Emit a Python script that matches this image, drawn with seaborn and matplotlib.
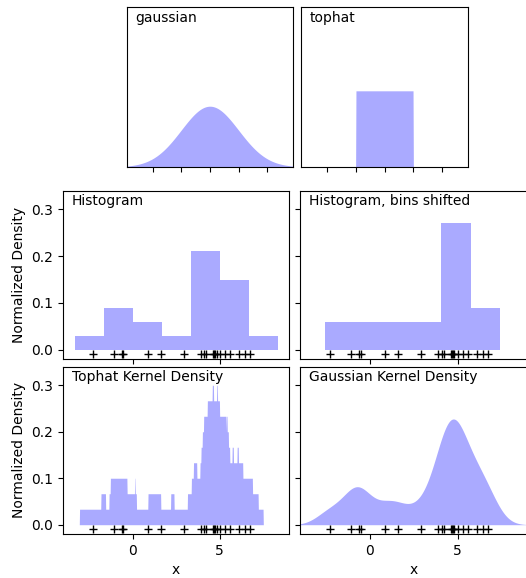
import numpy as np
import pandas as pd
import matplotlib
matplotlib.use("Agg")
import matplotlib.pyplot as plt
import seaborn as sns

# Sample points (read from the "+" marks)
x_points = [1.624, -0.612, -0.528, -1.073, 0.865, -2.302,
            6.745, 4.239, 5.319, 4.751, 6.462, 2.940, 4.678,
            4.616, 6.134, 3.900, 4.828, 4.122, 5.042, 5.583]
bandwidth = 0.75
bin_edges = [-5.0, -3.333, -1.667, 0.0, 1.667, 3.333, 5.0, 6.667, 8.333, 10.0]
bin_shift = 0.75
kernel_names = ["gaussian", "tophat"]
panel_titles = ["Histogram", "Histogram, bins shifted",
                "Tophat Kernel Density", "Gaussian Kernel Density"]

FC = "#AAAAFF"
df = pd.DataFrame({"x": x_points})
X = np.asarray(x_points)
N = len(X)

W, H = 526, 578
fig = plt.figure(figsize=(W / 100, H / 100), dpi=100)

def rect(x0, y0, x1, y1):
    return [x0 / W, (H - y1) / H, (x1 - x0) / W, (y1 - y0) / H]

# ---- top row: kernel shapes ----
ax_g = fig.add_axes(rect(126.7, 7, 293, 167))
ax_t = fig.add_axes(rect(301, 7, 468, 167))
xk = np.linspace(-6, 6, 1000)
kern = {
    "gaussian": np.exp(-0.5 * xk ** 2) / np.sqrt(2 * np.pi),
    "tophat": np.where(np.abs(xk) < 1, 0.5, 0.0),
}
for axk, name in zip([ax_g, ax_t], kernel_names):
    axk.fill_between(xk, kern[name], color=FC, linewidth=0)
    axk.text(-2.6, 0.95, name)
    axk.set_xticks([-2, -1, 0, 1, 2])
    axk.xaxis.set_major_formatter(plt.NullFormatter())
    axk.yaxis.set_major_locator(plt.NullLocator())
    axk.set_ylim(0, 1.05)
    axk.set_xlim(-2.9, 2.9)

# ---- 2x2 grid ----
ax00 = fig.add_axes(rect(63, 190.7, 289.3, 359))
ax01 = fig.add_axes(rect(300, 190.7, 527.5, 359))
ax10 = fig.add_axes(rect(63, 366.7, 289.3, 534))
ax11 = fig.add_axes(rect(300, 366.7, 527.5, 534))

sns.histplot(data=df, x="x", bins=bin_edges, stat="density", color=FC,
             alpha=1, linewidth=0, ax=ax00)
sns.histplot(data=df, x="x", bins=[b + bin_shift for b in bin_edges],
             stat="density", color=FC, alpha=1, linewidth=0, ax=ax01)

# tophat KDE
grid = np.linspace(-5, 10, 1000)
tophat = (np.abs(grid[:, None] - X[None, :]) < bandwidth).sum(axis=1) / (N * 2 * bandwidth)
ax10.fill_between(grid, tophat, color=FC, linewidth=0)

# gaussian KDE
sns.kdeplot(data=df, x="x", bw_method=bandwidth / np.std(X, ddof=1),
            fill=True, color=FC, alpha=1, linewidth=0, cut=10,
            clip=(-5, 10), gridsize=1000, ax=ax11)

for axi, title in zip([ax00, ax01, ax10, ax11], panel_titles):
    axi.plot(X, np.full(N, -0.01), "+k")
    axi.set_xlim(-4, 9)
    axi.set_ylim(-0.02, 0.34)
    axi.set_xticks([0, 5])
    axi.set_yticks([0.0, 0.1, 0.2, 0.3])
    axi.text(-3.5, 0.31, title)
    axi.set_xlabel("")
    axi.set_ylabel("")

for axi in [ax01, ax11]:
    axi.yaxis.set_major_formatter(plt.NullFormatter())
for axi in [ax00, ax01]:
    axi.xaxis.set_major_formatter(plt.NullFormatter())
for axi in [ax00, ax10]:
    axi.set_ylabel("Normalized Density")
for axi in [ax10, ax11]:
    axi.set_xlabel("x")

fig.savefig("out.png", dpi=100)
